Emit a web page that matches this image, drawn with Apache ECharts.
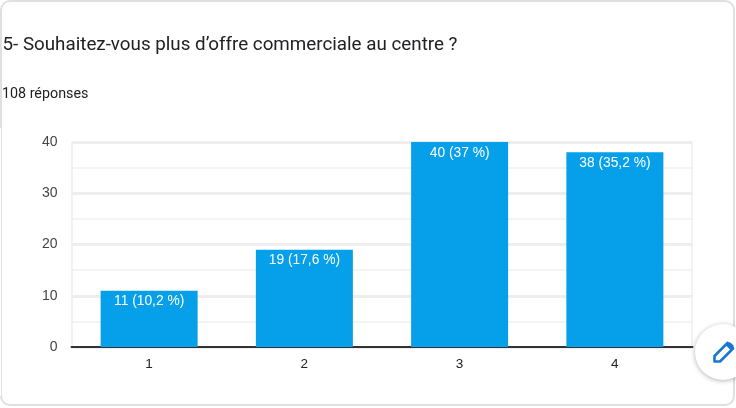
<!DOCTYPE html>
<html><head><meta charset="utf-8">
<style>html,body{margin:0;padding:0;background:#fff}#c{width:736px;height:408px}</style>
<script src="https://cdn.jsdelivr.net/npm/echarts@6/dist/echarts.min.js"></script>
</head><body><div id="c"></div>
<script>
const categories = ['1','2','3','4'];
const values = [11,19,40,38];
const percents = ['10,2','17,6','37','35,2'];
const titleText = '5- Souhaitez-vous plus d’offre commerciale au centre ?';
const subtitleText = '108 réponses';
const chart = echarts.init(document.getElementById('c'),null,{renderer:'canvas'});
chart.setOption({
  animation:false,
  backgroundColor:'#fff',
  grid:{left:71.5,right:43.5,top:142,bottom:61,containLabel:false},
  xAxis:{type:'category',data:categories,
    axisLine:{show:true,lineStyle:{color:'#333',width:2}},
    axisTick:{show:false},
    axisLabel:{color:'#222',fontFamily:'Arial, Liberation Sans',fontSize:13.5,margin:10},
    splitLine:{show:false}},
  yAxis:{type:'value',min:0,max:40,interval:10,
    axisLine:{show:false},axisTick:{show:false},
    axisLabel:{color:'#444',fontFamily:'Arial, Liberation Sans',fontSize:14,margin:14,padding:[2,0,0,0]},
    splitLine:{lineStyle:{color:'#eeeeee',width:3}},
    minorTick:{show:false,splitNumber:2},
    minorSplitLine:{show:true,lineStyle:{color:'#f4f4f4',width:2}}},
  series:[{type:'bar',data:values,barWidth:97,
    itemStyle:{color:'#069fe9'},z:3,
    label:{show:true,position:'insideTop',distance:4,color:'#fff',
      fontFamily:'Arial, Liberation Sans',fontSize:13.8,
      formatter:p=>p.value+' ('+percents[p.dataIndex]+' %)'}}],
  graphic:[
    {type:'rect',z:-10,silent:true,shape:{x:1,y:1,width:733,height:404,r:9},
      style:{fill:'transparent',stroke:'#e0e0e0',lineWidth:2}},
    {type:'line',z:-9,silent:true,shape:{x1:0.5,y1:128,x2:0.5,y2:396},style:{stroke:'#fff',lineWidth:1}},
    {type:'line',z:1,silent:true,shape:{x1:72,y1:142,x2:72,y2:346},style:{stroke:'#eeeeee',lineWidth:1.5}},
    {type:'line',z:1,silent:true,shape:{x1:692,y1:142,x2:692,y2:346},style:{stroke:'#eeeeee',lineWidth:1.5}},
    {type:'text',z:5,x:2.5,y:35.5,style:{text:titleText,fill:'#202124',font:'400 18.8px Roboto'}},
    {type:'text',z:5,x:2,y:87,style:{text:subtitleText,fill:'#202124',font:'400 14.3px Roboto'}},
    {type:'circle',z:6,silent:true,shape:{cx:723,cy:352,r:28},
      style:{fill:'#fff',shadowBlur:5,shadowColor:'rgba(0,0,0,0.3)',shadowOffsetY:1}},
    {type:'polygon',z:7,silent:true,
      shape:{points:[[714.5,356],[714.5,361.5],[720,361.5],[733,348.5],[727.5,343]]},
      style:{fill:'#fff',stroke:'#1976d2',lineWidth:2.6,lineJoin:'round'}},
    {type:'polygon',z:8,silent:true,
      shape:{points:[[725.5,345],[728,342.5],[730.5,342.5],[733.5,345.5],[733.5,348],[731,350.5]]},
      style:{fill:'#1976d2'}}
  ]
});
</script></body></html>
